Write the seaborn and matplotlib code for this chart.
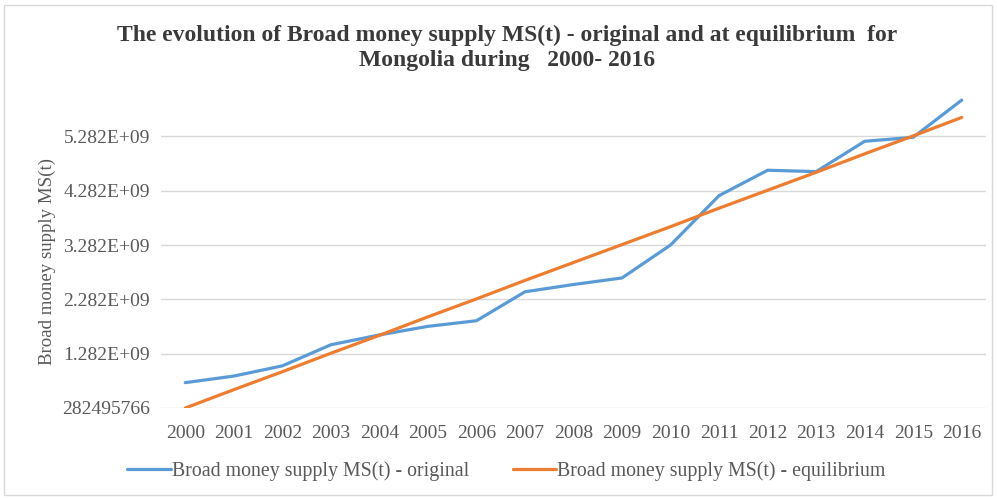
import matplotlib
matplotlib.use("Agg")
import matplotlib.pyplot as plt
import seaborn as sns
import pandas as pd
from matplotlib.patches import Rectangle

years = list(range(2000, 2017))
original = [0.749e9, 0.870e9, 1.058e9, 1.446e9, 1.627e9, 1.785e9, 1.888e9, 2.421e9,
            2.555e9, 2.676e9, 3.282e9, 4.191e9, 4.658e9, 4.633e9, 5.191e9, 5.264e9, 5.949e9]
equilibrium = [0.282e9, 0.62e9, 0.95e9, 1.29e9, 1.62e9, 1.96e9, 2.29e9, 2.63e9,
               2.96e9, 3.29e9, 3.62e9, 3.96e9, 4.29e9, 4.62e9, 4.96e9, 5.29e9, 5.63e9]
ytick_values = [282495766, 1.282e9, 2.282e9, 3.282e9, 4.282e9, 5.282e9]
ytick_labels = ["282495766", "1.282E+09", "2.282E+09", "3.282E+09", "4.282E+09", "5.282E+09"]
series_names = ["Broad money supply MS(t) - original", "Broad money supply MS(t) - equilibrium"]
title = "The evolution of Broad money supply MS(t) - original and at equilibrium  for\nMongolia during   2000- 2016"
ylabel = "Broad money supply MS(t)"

sns.set_style("white")
plt.rcParams['font.family'] = ['Liberation Serif', 'DejaVu Serif']

df = pd.DataFrame({
    "pos": list(range(len(years))) * 2,
    "value": original + equilibrium,
    "series": [series_names[0]] * len(years) + [series_names[1]] * len(years),
})

fig = plt.figure(figsize=(9.97, 4.99), dpi=100)
ax = fig.add_axes([161/997, 1-408/499, (986-161)/997, (408-82)/499])
sns.lineplot(data=df, x="pos", y="value", hue="series", ax=ax,
             palette=["#5B9BD5", "#ED7D31"], linewidth=2.3, legend=False, sort=False)

ax.set_xlim(-0.5, len(years) - 0.5)
ax.set_ylim(282495766, 6.282e9)
ax.set_xticks(range(len(years)))
ax.set_xticklabels([str(y) for y in years])
ax.set_yticks(ytick_values)
ax.set_yticklabels(ytick_labels)
ax.tick_params(axis='both', length=0, colors="#595959", labelsize=14)
ax.tick_params(axis='x', pad=12)
ax.tick_params(axis='y', pad=8)
ax.grid(axis='y', color="#D9D9D9", linewidth=1)
ax.set_axisbelow(True)
for s in ax.spines.values():
    s.set_visible(False)
ax.set_xlabel("")
ax.set_ylabel(ylabel, color="#595959", fontsize=13.6)
ax.yaxis.set_label_coords(-105/825, 0.45)

fig.text(0.509, 1-48/499, title, ha="center", va="center", fontsize=17,
         fontweight="bold", color="#3A3A3A", linespacing=1.25)

handles = [plt.Line2D([], [], color="#5B9BD5", linewidth=2.3),
           plt.Line2D([], [], color="#ED7D31", linewidth=2.3)]
fig.legend(handles, series_names, loc="center", bbox_to_anchor=(0.508, 1-471/499),
           ncol=2, frameon=False, fontsize=14.3, handlelength=2.2, handletextpad=0.05,
           columnspacing=2.2, labelcolor="#595959")

fig.patches.append(Rectangle((4/997, 4/499), 988/997, 490/499, transform=fig.transFigure,
                             fill=False, edgecolor="#D9D9D9", linewidth=1))

fig.savefig("out.png", dpi=100)
